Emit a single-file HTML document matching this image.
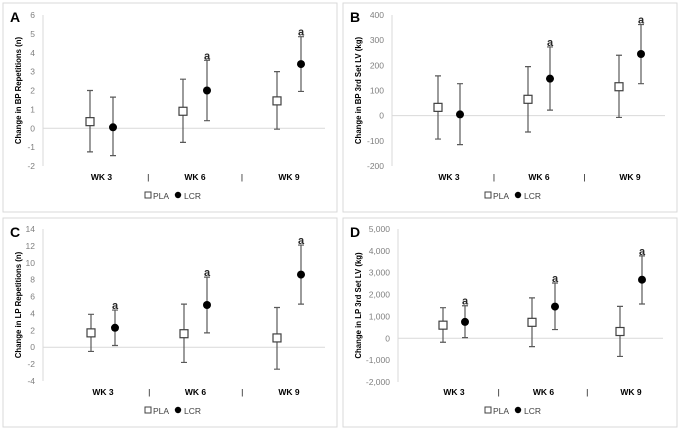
<!DOCTYPE html>
<html><head><meta charset="utf-8"><style>
html,body{margin:0;padding:0;background:#fff;}
svg{display:block;font-family:"Liberation Sans",sans-serif;}
</style></head><body>
<svg id="chart" width="680" height="431" viewBox="0 0 680 431"></svg>
<script>
const categories = ["WK 3","WK 6","WK 9"];
const panelLetters = ["A","B","C","D"];
const yTitles = ["Change in BP Repetitions (n)","Change in BP 3rd Set LV (kg)","Change in LP Repetitions (n)","Change in LP 3rd Set LV (kg)"];
const yTicksA = [-2,-1,0,1,2,3,4,5,6];
const yTicksB = [-200,-100,0,100,200,300,400];
const yTicksC = [-4,-2,0,2,4,6,8,10,12,14];
const yTicksD = [-2000,-1000,0,1000,2000,3000,4000,5000];
const plaMeanA = [0.35,0.9,1.45], plaLoA = [-1.25,-0.75,-0.05], plaHiA = [2.0,2.6,3.0];
const lcrMeanA = [0.05,2.0,3.4], lcrLoA = [-1.45,0.4,1.95], lcrHiA = [1.65,3.6,4.85];
const sigA = [false,true,true];
const plaMeanB = [33,65,115], plaLoB = [-93,-65,-7], plaHiB = [158,195,240];
const lcrMeanB = [5,147,245], lcrLoB = [-115,22,127], lcrHiB = [127,273,362];
const sigB = [false,true,true];
const plaMeanC = [1.7,1.6,1.1], plaLoC = [-0.5,-1.8,-2.6], plaHiC = [3.9,5.1,4.7];
const lcrMeanC = [2.3,5.0,8.6], lcrLoC = [0.2,1.7,5.1], lcrHiC = [4.4,8.3,12.1];
const sigC = [true,true,true];
const plaMeanD = [600,730,310], plaLoD = [-180,-380,-830], plaHiD = [1400,1850,1460];
const lcrMeanD = [750,1450,2680], lcrLoD = [30,400,1570], lcrHiD = [1490,2530,3770];
const sigD = [true,true,true];

const NS="http://www.w3.org/2000/svg";
const svg=document.getElementById('chart');
function mk(tag,attrs,parent,text){const e=document.createElementNS(NS,tag);for(const k in attrs)e.setAttribute(k,attrs[k]);if(text!==undefined)e.textContent=text;(parent||svg).appendChild(e);return e;}
function fmt(v,comma){if(!comma)return String(v);const s=Math.abs(v).toLocaleString('en-US');return (v<0?'-':'')+s;}

const panels=[
 {ox:0,oy:0,axisX:43,top:15,bot:166,right:325,xs:[[90,113],[183,207],[277,301]],ticks:yTicksA,pm:plaMeanA,pl:plaLoA,ph:plaHiA,lm:lcrMeanA,ll:lcrLoA,lh:lcrHiA,sig:sigA,comma:false},
 {ox:340,oy:0,axisX:392,top:15,bot:166,right:665,xs:[[438,460],[528,550],[619,641]],ticks:yTicksB,pm:plaMeanB,pl:plaLoB,ph:plaHiB,lm:lcrMeanB,ll:lcrLoB,lh:lcrHiB,sig:sigB,comma:false},
 {ox:0,oy:215,axisX:43,top:229,bot:381,right:325,xs:[[91,115],[184,207],[277,301]],ticks:yTicksC,pm:plaMeanC,pl:plaLoC,ph:plaHiC,lm:lcrMeanC,ll:lcrLoC,lh:lcrHiC,sig:sigC,comma:false},
 {ox:340,oy:215,axisX:398,top:229,bot:382,right:663,xs:[[443,465],[532,555],[620,642]],ticks:yTicksD,pm:plaMeanD,pl:plaLoD,ph:plaHiD,lm:lcrMeanD,ll:lcrLoD,lh:lcrHiD,sig:sigD,comma:true}
];

panels.forEach((p,pi)=>{
 const g=mk('g',{});
 
 
 const fr=mk('rect',{x:p.ox+3,y:p.oy+3,width:334,height:209,fill:'#fff',stroke:'#d9d9d9','stroke-width':1},g);
 
 
 const lt=mk('text',{x:p.ox+10,y:p.oy+22,'font-size':14,'font-weight':'bold',fill:'#000'},g,panelLetters[pi]);
 
 
 const tmin=p.ticks[0],tmax=p.ticks[p.ticks.length-1];
 const y=v=>p.bot-(v-tmin)/(tmax-tmin)*(p.bot-p.top);
 const ax=mk('line',{x1:p.axisX,y1:p.top,x2:p.axisX,y2:p.bot,stroke:'#d9d9d9'},g);
 
 
 p.ticks.forEach(t=>{
  const tl=mk('text',{x:p.axisX-8,y:y(t)+3,'font-size':8.5,fill:'#7f7f7f','text-anchor':'end'},g,fmt(t,p.comma));
  
  
 });
 const z=mk('line',{x1:p.axisX,y1:y(0),x2:p.right,y2:y(0),stroke:'#d9d9d9'},g);
 
 
 const cy=(p.top+p.bot)/2;
 const yt=mk('text',{x:0,y:0,'font-size':7.8,'font-weight':'bold',fill:'#000','text-anchor':'middle',transform:`translate(${p.ox+21},${cy}) rotate(-90)`},g,yTitles[pi]);
 
 
 categories.forEach((c,i)=>{
  const [xp,xl]=p.xs[i];
  const cx=(xp+xl)/2;
  const cl=mk('text',{x:cx,y:p.oy+180,'font-size':8.5,'font-weight':'bold',fill:'#000','text-anchor':'middle'},g,c);
  
  
  if(i<2){
   const nx=(cx+(p.xs[i+1][0]+p.xs[i+1][1])/2)/2;
   const sp=mk('text',{x:nx,y:p.oy+180,'font-size':8.5,fill:'#000','text-anchor':'middle'},g,'|');
   
   
  }
  [[xp,p.pl[i],p.ph[i]],[xl,p.ll[i],p.lh[i]]].forEach(([x,lo,hi])=>{
   const eb=mk('path',{d:`M${x},${y(lo)}V${y(hi)}M${x-3},${y(lo)}H${x+3}M${x-3},${y(hi)}H${x+3}`,stroke:'#595959','stroke-width':1.2,fill:'none'},g);
   
   
  });
  const sq=mk('rect',{x:xp-4,y:y(p.pm[i])-4,width:8,height:8,fill:'#fff',stroke:'#404040','stroke-width':1.2},g);
  
  
  const dt=mk('circle',{cx:xl,cy:y(p.lm[i]),r:4,fill:'#000'},g);
  
  
  if(p.sig[i]){
   const a=mk('text',{x:xl,y:y(p.lh[i])-1,'font-size':11,'font-weight':'bold',fill:'#262626','text-anchor':'middle'},g,'a');
   
   
  }
 });
 const lx=p.ox+145, ly=p.oy+199;
 const lg=mk('g',{},g);
 
 
 mk('rect',{x:lx,y:ly-7,width:6,height:6,fill:'#fff',stroke:'#404040','stroke-width':1},lg);
 const t1=mk('text',{x:lx+8,y:ly,'font-size':8.5,fill:'#404040'},lg,'PLA');
 
 
 mk('circle',{cx:lx+33,cy:ly-4,r:3.2,fill:'#000'},lg);
 const t2=mk('text',{x:lx+39,y:ly,'font-size':8.5,fill:'#404040'},lg,'LCR');
 
 
});
</script>
</body></html>
